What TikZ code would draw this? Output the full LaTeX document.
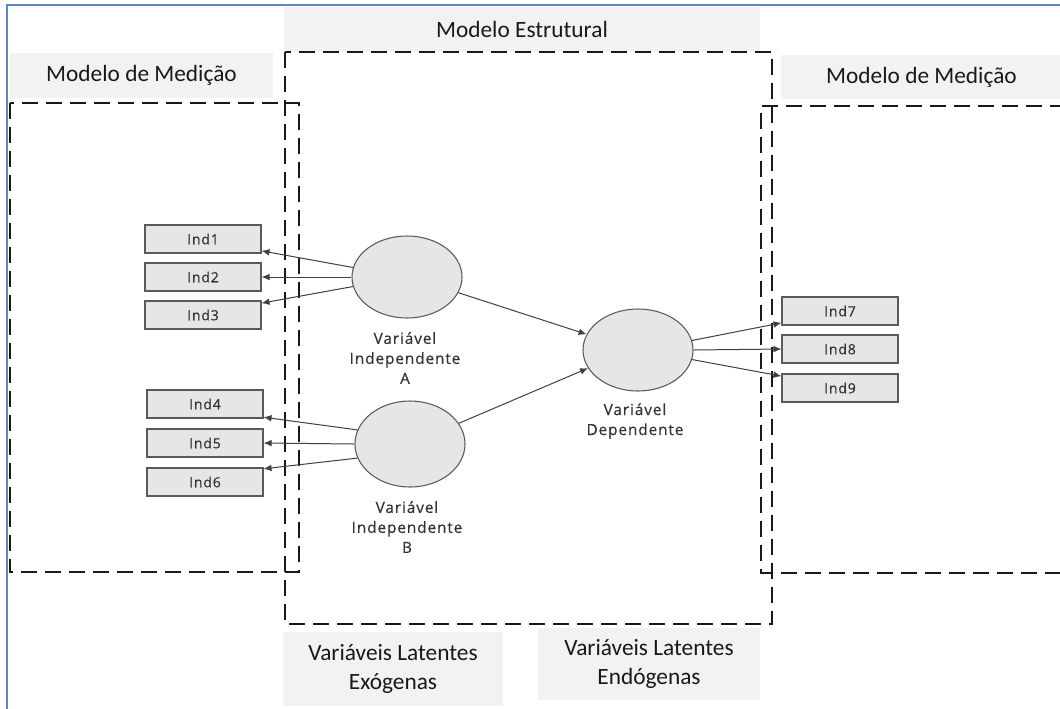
\documentclass[tikz,border=0pt]{standalone}
\usepackage{fontspec}
\setmainfont{Carlito}
\newfontfamily\indfont[LetterSpace=6,FakeBold=0.4]{Open Sans}
\newfontfamily\varfont[LetterSpace=6,FakeBold=0.4]{Open Sans}
\usetikzlibrary{arrows.meta,shapes.geometric}
\definecolor{frameblue}{HTML}{5B87C5}
\definecolor{headgray}{HTML}{F2F2F2}
\definecolor{boxgray}{HTML}{E6E6E6}
\definecolor{edgegray}{HTML}{5A5A5A}
\definecolor{txtgray}{HTML}{333333}
\begin{document}
\begin{tikzpicture}[x=0.75pt,y=-0.75pt,
 head/.style={fill=headgray, draw=none, inner sep=0pt, font=\fontsize{17.5}{21.5}\selectfont, align=center, text=black!90},
 dbox/.style={draw=black!90, line width=1.5pt, dash pattern=on 12pt off 6pt},
 ind/.style={rectangle, draw=edgegray, fill=boxgray, line width=0.8pt, minimum width=87pt, minimum height=21pt, inner sep=0pt, font=\indfont\fontsize{10.5}{12}\selectfont, text=txtgray},
 lat/.style={ellipse, draw=edgegray, fill=boxgray, line width=0.8pt, minimum width=82.5pt, minimum height=61.5pt, inner sep=0pt},
 vlab/.style={font=\varfont\fontsize{11.5}{15}\selectfont, align=center, text=txtgray, inner sep=0pt},
 arr/.style={draw=black!75, line width=0.75pt, -{Latex[length=6pt,width=5pt]}}
]
\useasboundingbox (0,0) rectangle (1060,708);
\fill[white] (0,0) rectangle (1060,708);

% blue frame
\draw[frameblue, line width=1.5pt] (7,712) -- (7,5) -- (1064,5);

% heading boxes
\node[head, minimum width=357pt, minimum height=33.75pt] (hE) at (522,29.5) {Modelo Estrutural};
\node[head, minimum width=197.25pt, minimum height=33.75pt] (hL) at (141.5,75.5) {Modelo de Medição};
\node[head, minimum width=210.75pt, minimum height=33pt] (hR) at (921.5,77) {Modelo de Medição};
\node[head, minimum width=165pt, minimum height=55.5pt] (exo) at (393,669) {Variáveis Latentes\\Exógenas};
\node[head, minimum width=166.5pt, minimum height=54pt] (endo) at (649,664) {Variáveis Latentes\\Endógenas};

% dashed model boxes
\draw[dbox] (10,103) rectangle (299,572);
\draw[dbox] (285,52) rectangle (772,624);
\draw[dbox] (1066,106) -- (761,106) -- (761,573) -- (1066,573);

% indicators
\node[ind] (i1) at (203,239) {Ind1};
\node[ind] (i2) at (203,277) {Ind2};
\node[ind] (i3) at (203,315) {Ind3};
\node[ind] (i4) at (205,404) {Ind4};
\node[ind] (i5) at (205,443) {Ind5};
\node[ind] (i6) at (205,482) {Ind6};
\node[ind] (i7) at (840,311) {Ind7};
\node[ind] (i8) at (840,349) {Ind8};
\node[ind] (i9) at (840,388) {Ind9};

% latent variables
\node[lat] (A) at (407,277) {};
\node[lat, minimum height=64.5pt] (B) at (410,444) {};
\node[lat] (D) at (638,350) {};

\node[vlab] (lA) at (405,358) {Variável\\Independente\\A};
\node[vlab] (lB) at (407,527) {Variável\\Independente\\B};
\node[vlab] (lD) at (635,421) {Variável\\Dependente};

% arrows
\draw[arr] (A.170) -- ([yshift=2pt]i1.south east);
\draw[arr] (A.180) -- (i2.east);
\draw[arr] (A.190) -- ([yshift=-2pt]i3.north east);
\draw[arr] (B.165) -- ([yshift=1pt]i4.south east);
\draw[arr] (B.180) -- (i5.east);
\draw[arr] (B.195) -- ([yshift=-1pt]i6.north east);
\draw[arr] (A.-17) -- (D.163);
\draw[arr] (B.23) -- (D.200);
\draw[arr] (D.10) -- ([yshift=2pt]i7.south west);
\draw[arr] (D.0) -- (i8.west);
\draw[arr] (D.-10) -- ([yshift=-2pt]i9.north west);
\end{tikzpicture}
\end{document}
